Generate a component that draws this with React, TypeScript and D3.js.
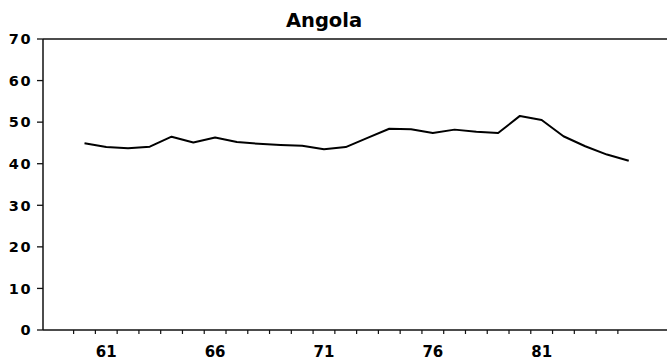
import React from "react";
import * as d3 from "d3";

const years = [60,61,62,63,64,65,66,67,68,69,70,71,72,73,74,75,76,77,78,79,80,81,82,83,84,85];
const values = [44.9,44.0,43.7,44.1,46.5,45.1,46.3,45.2,44.8,44.5,44.3,43.5,44.0,46.2,48.4,48.3,47.4,48.2,47.7,47.4,51.5,50.5,46.6,44.2,42.2,40.7];
const yTicks = [0,10,20,30,40,50,60,70];
const xLabels = [61,66,71,76,81];
const xTickPositions = d3.range(59.5, 85, 1);
const title = "Angola";

const W = 667, H = 359;
const left = 43, right = 667, top = 39, bottom = 330;

export default function App() {
  const x = d3.scaleLinear().domain([60, 85]).range([84.5, 84.5 + 25 * 21.77]);
  const y = d3.scaleLinear().domain([0, 70]).range([bottom, top]);
  const line = d3.line<number>().x((_, i) => x(years[i])).y(d => y(d));
  const font = "'DejaVu Sans', Arial, sans-serif";
  return (
    <svg width={W} height={H} style={{ position: "absolute", left: 0, top: 0, background: "#fff" }}>
      <text x={324} y={27} textAnchor="middle" fontFamily={font} fontWeight="bold" fontSize={19.5} fill="#000">{title}</text>
      <line x1={left} x2={right} y1={top} y2={top} stroke="#111" strokeWidth={1.5} />
      <line x1={left} x2={left} y1={top} y2={bottom} stroke="#111" strokeWidth={1.5} />
      <line x1={left} x2={right} y1={bottom} y2={bottom} stroke="#111" strokeWidth={1.5} />
      {yTicks.map(t => (
        <g key={t}>
          <line x1={left - 6} x2={left} y1={y(t)} y2={y(t)} stroke="#111" strokeWidth={1.3} />
          <text x={32} y={y(t)} dy="0.36em" textAnchor="end" fontFamily={font} fontWeight="bold" fontSize={14.5} letterSpacing={1.5} fill="#000">{t}</text>
        </g>
      ))}
      {xTickPositions.map(t => (
        <line key={t} x1={x(t)} x2={x(t)} y1={bottom} y2={bottom + 4} stroke="#111" strokeWidth={1.2} />
      ))}
      {xLabels.map(t => (
        <text key={t} x={x(t)} y={356.5} textAnchor="middle" fontFamily={font} fontWeight="bold" fontSize={15} fill="#000">{t}</text>
      ))}
      <path d={line(values) || ""} fill="none" stroke="#000" strokeWidth={2} strokeLinejoin="round" />
    </svg>
  );
}
